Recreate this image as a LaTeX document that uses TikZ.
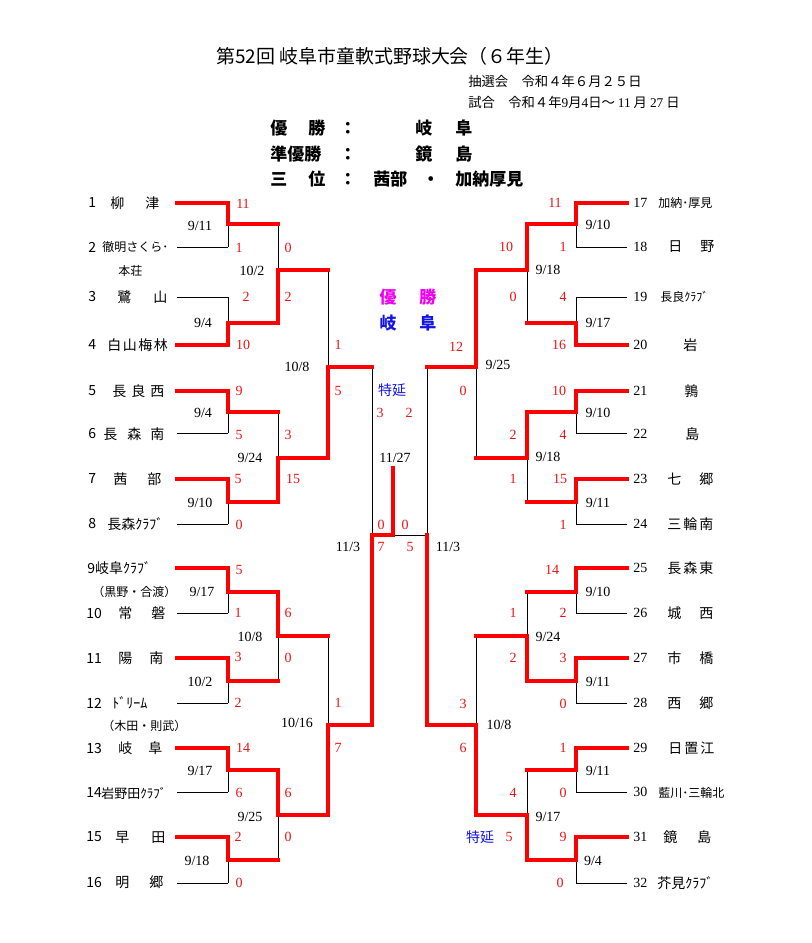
\documentclass[tikz,border=0pt]{standalone}
\usepackage{fontspec}
\setmainfont{Liberation Serif}
\newfontfamily\jp{Noto Sans CJK JP}
\newdimen\px \px=0.75pt
\pgfdeclarelayer{paper}\pgfdeclarelayer{lose}\pgfdeclarelayer{win}\pgfsetlayers{paper,lose,win,main}
\definecolor{wred}{RGB}{255,0,0}
\definecolor{sred}{RGB}{235,20,20}
\definecolor{mag}{RGB}{240,0,240}
\definecolor{blu}{RGB}{20,20,230}
\begin{document}
\begin{tikzpicture}[x=0.75pt,y=-0.75pt,
  win/.style={draw=wred,line width=2.5pt,line cap=rect},
  lose/.style={draw=black,line width=0.75pt},
  sc/.style={inner sep=0pt,text=sred,font=\fontsize{10.5}{12}\selectfont},
  dt/.style={inner sep=0pt,font=\fontsize{10.5}{12}\selectfont},
  tn/.style={inner sep=0pt,anchor=west,font=\jp\fontsize{10.5}{12}\selectfont},
  tns/.style={inner sep=0pt,anchor=west,font=\jp\fontsize{9}{11}\selectfont},
  rn/.style={inner sep=0pt,anchor=west,font=\fontsize{10.5}{12}\selectfont},
  res/.style={inner sep=0pt,anchor=west,font=\jp\bfseries\fontsize{12.75}{14}\selectfont},
  sub/.style={inner sep=0pt,anchor=west,font=\jp\fontsize{10}{12}\selectfont}]
\useasboundingbox (0,0) rectangle (812,943);
\begin{pgfonlayer}{paper}\fill[white] (0,0) rectangle (812,943);\end{pgfonlayer}

% ---------- bracket lines ----------
\foreach \n/\xa/\xb/\y/\m/\h/\v in {
 a1/177/228/203/224/win/win, a2/177/228/247/224/lose/lose,
 a3/177/228/297/323/lose/lose, a4/177/228/345/323/win/win,
 a5/177/228/391/412/win/win, a6/177/228/433/412/lose/lose,
 a7/177/228/479/502/win/win, a8/177/228/524/502/lose/lose,
 a9/177/228/568/592/win/win, a10/177/228/613/592/lose/lose,
 a11/177/228/658/681/win/win, a12/177/228/703/681/lose/lose,
 a13/177/228/748/770/win/win, a14/177/228/792/770/lose/lose,
 a15/177/228/837/860/win/win, a16/177/228/883/860/lose/lose,
 b17/627/576/203/224/win/win, b18/627/576/247/224/lose/lose,
 b19/627/576/297/323/lose/lose, b20/627/576/345/323/win/win,
 b21/627/576/391/412/win/win, b22/627/576/433/412/lose/lose,
 b23/627/576/479/502/win/win, b24/627/576/524/502/lose/lose,
 b25/627/576/568/592/win/win, b26/627/576/613/592/lose/lose,
 b27/627/576/658/681/win/win, b28/627/576/703/681/lose/lose,
 b29/627/576/748/770/win/win, b30/627/576/792/770/lose/lose,
 b31/627/576/837/860/win/win, b32/627/576/883/860/lose/lose,
 c1/228/278/224/270/win/lose, c2/228/278/323/270/win/win,
 c3/228/278/412/458/win/lose, c4/228/278/502/458/win/win,
 c5/228/278/592/636/win/win, c6/228/278/681/636/win/lose,
 c7/228/278/770/815/win/win, c8/228/278/860/815/win/lose,
 d1/576/527/224/270/win/win, d2/576/527/323/270/win/lose,
 d3/576/527/412/458/win/win, d4/576/527/502/458/win/lose,
 d5/576/527/592/636/win/lose, d6/576/527/681/636/win/win,
 d7/576/527/770/815/win/lose, d8/576/527/860/815/win/win,
 e1/278/328/270/367/win/lose, e2/278/328/458/367/win/win,
 e3/278/328/636/725/win/lose, e4/278/328/815/725/win/win,
 f1/527/476/270/367/win/win, f2/527/476/458/367/win/lose,
 f3/527/476/636/725/win/lose, f4/527/476/815/725/win/win,
 g1/328/372/367/535/win/lose, g2/328/372/725/535/win/win,
 h1/476/427/367/535/win/lose, h2/476/427/725/535/win/win,
 k1/372/393/535/468/win/win}
{
  \coordinate (\n a) at (\xa,\y);
  \coordinate (\n b) at (\xb,\y);
  \coordinate (\n c) at (\xb,\m);
  \begin{pgfonlayer}{\h}\draw[\h] (\n a) -- (\n b);\end{pgfonlayer}
  \begin{pgfonlayer}{\v}\draw[\v] (\n b) -- (\n c);\end{pgfonlayer}
}
\coordinate (k2a) at (427,535);
\begin{pgfonlayer}{lose}\draw[lose] (k2a) -- (k1b);\end{pgfonlayer}

% ---------- header ----------
\node[inner sep=0pt,font=\jp\fontsize{14.2}{16}\selectfont] (title) at (390,56) {第52回 岐阜市童軟式野球大会（６年生）};
\node[sub] (draw) at (468,81) {抽選会　令和４年６月２５日};
\node[sub] (games) at (468,102) {試合　令和４年{\rmfamily 9}月{\rmfamily 4}日～ {\rmfamily 11} 月 {\rmfamily 27} 日};
\node[res] (res1) at (270,128) {\makebox[38\px][l]{優}\makebox[31\px][l]{勝}\makebox[76\px][l]{：}\makebox[40\px][l]{岐}阜};
\node[res] (res2) at (270,154) {\makebox[69\px][l]{準優勝}\makebox[76\px][l]{：}\makebox[40\px][l]{鏡}島};
\node[res] (res3) at (270,179) {\makebox[38\px][l]{三}\makebox[31\px][l]{位}\makebox[34\px][l]{：}\makebox[49\px][l]{茜部}\makebox[33\px][l]{・}加納厚見};

% ---------- champion in centre ----------
\node[inner sep=0pt,text=mag,font=\jp\bfseries\fontsize{12.75}{14}\selectfont] (champ) at (408,297) {優\hspace{23\px}勝};
\node[inner sep=0pt,text=blu,font=\jp\bfseries\fontsize{12.75}{14}\selectfont] (champn) at (408,323) {岐\hspace{23\px}阜};
\node[inner sep=0pt,text=blu,font=\jp\fontsize{10.5}{12}\selectfont] (ext1) at (392,390) {特延};
\node[inner sep=0pt,text=blu,font=\jp\fontsize{10.5}{12}\selectfont] (ext2) at (480,837) {特延};

% ---------- left teams ----------
\node[tn] (l1n) at (88,203) {1};   \node[tn] (l1) at (110,203) {柳\hspace{21\px}津};
\node[tn] (l2n) at (88,247) {2};   \node[tns] (l2) at (102,247) {徹明さくら･};
\node[tns] (l2b) at (118,271) {本荘};
\node[tn] (l3n) at (88,297) {3};   \node[tn] (l3) at (117,297) {鷺\hspace{22\px}山};
\node[tn] (l4n) at (88,345) {4};   \node[tn] (l4) at (107,345) {白\hspace{1.5\px}山\hspace{1.5\px}梅\hspace{1.5\px}林};
\node[tn] (l5n) at (88,391) {5};   \node[tn] (l5) at (112,391) {長\hspace{5\px}良\hspace{5\px}西};
\node[tn] (l6n) at (88,434) {6};   \node[tn] (l6) at (103,434) {長\hspace{10\px}森\hspace{9\px}南};
\node[tn] (l7n) at (88,479) {7};   \node[tn] (l7) at (113,479) {茜\hspace{20\px}部};
\node[tn] (l8n) at (88,524) {8};   \node[tn] (l8) at (107,524) {長森ｸﾗﾌﾞ};
\node[tn] (l9) at (87,568) {9岐阜ｸﾗﾌﾞ};
\node[tns] (l9b) at (92,592) {（黒野・合渡）};
\node[tn] (l10n) at (86,613) {10}; \node[tn] (l10) at (118,613) {常\hspace{19\px}磐};
\node[tn] (l11n) at (86,658) {11}; \node[tn] (l11) at (118,658) {陽\hspace{17\px}南};
\node[tn] (l12n) at (86,703) {12}; \node[tn] (l12) at (112,703) {ﾄﾞﾘｰﾑ};
\node[tns] (l12b) at (102,726) {（木田・則武）};
\node[tn] (l13n) at (86,748) {13}; \node[tn] (l13) at (118,748) {岐\hspace{16\px}阜};
\node[tn] (l14n) at (86,792) {14}; \node[inner sep=0pt,anchor=west,font=\jp\fontsize{9.75}{11}\selectfont] (l14) at (101,793) {岩野田ｸﾗﾌﾞ};
\node[tn] (l15n) at (86,837) {15}; \node[tn] (l15) at (115,837) {早\hspace{22\px}田};
\node[tn] (l16n) at (86,882) {16}; \node[tn] (l16) at (115,882) {明\hspace{20\px}郷};

% ---------- right teams ----------
\foreach \k/\y in {17/203,18/247,19/297,20/345,21/391,22/434,23/479,24/524,25/568,26/613,27/658,28/703,29/748,30/792,31/837,32/883}
  \node[rn] (r\k n) at (633,\y) {\k};
\node[tns] (r17) at (658,203) {加納･厚見};
\node[tn] (r18) at (668,247) {日\hspace{18\px}野};
\node[tns] (r19) at (660,297) {長良ｸﾗﾌﾞ};
\node[tn] (r20) at (683,345) {岩};
\node[tn] (r21) at (684,391) {鶉};
\node[tn] (r22) at (685,434) {島};
\node[tn] (r23) at (667,479) {七\hspace{18\px}郷};
\node[tn] (r24) at (667,524) {三\hspace{2\px}輪\hspace{2\px}南};
\node[tn] (r25) at (667,568) {長\hspace{2\px}森\hspace{2\px}東};
\node[tn] (r26) at (667,613) {城\hspace{18\px}西};
\node[tn] (r27) at (667,658) {市\hspace{18\px}橋};
\node[tn] (r28) at (667,703) {西\hspace{18\px}郷};
\node[tn] (r29) at (668,748) {日\hspace{2\px}置\hspace{2\px}江};
\node[tns] (r30) at (658,793) {藍川･三輪北};
\node[tn] (r31) at (663,837) {鏡\hspace{20\px}島};
\node[tn] (r32) at (657,883) {芥見ｸﾗﾌﾞ};

% ---------- scores ----------
\foreach \x/\y/\t [count=\i] in {
 243/204/11, 239/248/1, 288/248/0, 246/297/2, 288/297/2, 243/345/10, 338/345/1,
 239/391/9, 239/435/5, 288/435/3, 238/479/5, 293/479/15, 239/525/0, 338/391/5,
 239/570/5, 238/613/1, 288/613/6, 238/657/3, 288/658/0, 238/703/2, 338/703/1,
 243/748/14, 239/793/6, 288/793/6, 238/837/2, 288/837/0, 239/883/0, 338/748/7,
 380/413/3, 409/413/2, 381/525/0, 405/525/0, 381/547/7, 410/547/5, 456/347/12, 463/391/0,
 555/203/11, 563/247/1, 506/247/10, 513/297/0, 563/297/4, 559/345/16,
 559/391/10, 563/435/4, 513/435/2, 513/479/1, 560/479/15, 563/525/1,
 552/570/14, 563/613/2, 513/613/1, 513/658/2, 563/658/3, 463/704/3, 563/704/0,
 463/748/6, 563/748/1, 513/793/4, 563/793/0, 509/837/5, 563/837/9, 560/883/0}
  \node[sc] (s\i) at (\x,\y) {\t};

% ---------- dates ----------
\foreach \x/\y/\t [count=\i] in {
 200/226/{9/11}, 252/271/{10/2}, 203/323/{9/4}, 297/367/{10/8}, 203/413/{9/4},
 250/458/{9/24}, 200/503/{9/10}, 348/547/{11/3}, 202/592/{9/17}, 250/637/{10/8},
 200/682/{10/2}, 297/723/{10/16}, 200/771/{9/17}, 250/817/{9/25}, 197/861/{9/18},
 395/458/{11/27}, 448/547/{11/3},
 598/225/{9/10}, 548/270/{9/18}, 598/323/{9/17}, 498/365/{9/25}, 598/413/{9/10},
 548/457/{9/18}, 598/503/{9/11}, 598/592/{9/10}, 548/637/{9/24}, 598/682/{9/11},
 499/725/{10/8}, 598/771/{9/11}, 548/817/{9/17}, 593/861/{9/4}}
  \node[dt] (d\i) at (\x,\y) {\t};
\end{tikzpicture}
\end{document}
